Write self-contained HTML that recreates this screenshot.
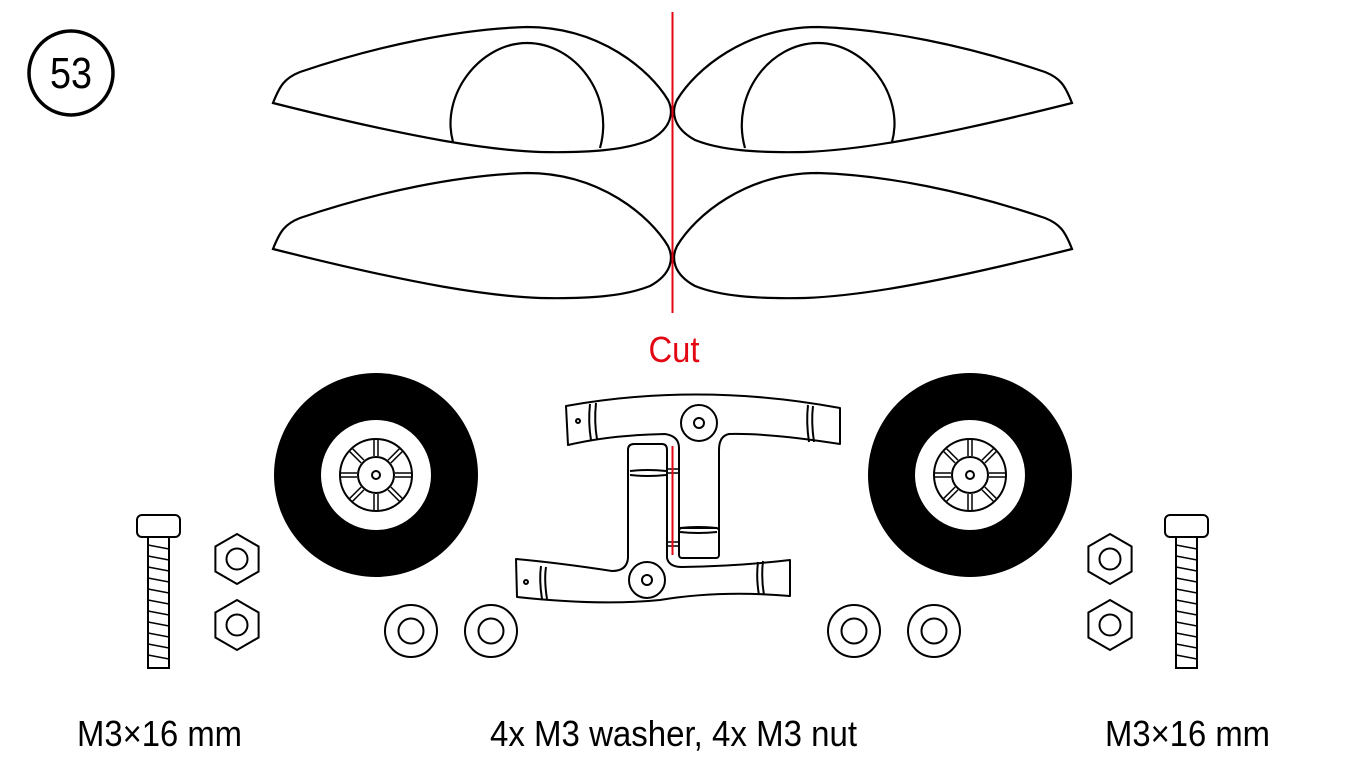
<!DOCTYPE html>
<html><head><meta charset="utf-8"><style>
html,body{margin:0;padding:0;background:#fff;width:1347px;height:780px;overflow:hidden}
svg{display:block}
text{font-family:"Liberation Sans Narrow","Liberation Sans",sans-serif}
</style></head><body>
<svg width="1347" height="780" viewBox="0 0 1347 780" xmlns="http://www.w3.org/2000/svg">
<defs>
<g id="fair">
<path d="M273,103 C280,85 285,78 300,72 C380,45 460,29 527,27 C600,27 650,70 668,100 C674,112 672,128 650,140 C625,150 590,153 540,152 C490,150 420,140 273,103 Z" fill="none" stroke="#000" stroke-width="2.2"/>
</g>
<g id="nut">
<polygon points="0,-25 21.6,-12.5 21.6,12.5 0,25 -21.6,12.5 -21.6,-12.5" fill="#fff" stroke="#000" stroke-width="2"/>
<circle r="10.5" fill="none" stroke="#000" stroke-width="2"/>
</g>
<g id="washer">
<circle r="26" fill="#fff" stroke="#000" stroke-width="2"/>
<circle r="12.5" fill="none" stroke="#000" stroke-width="2"/>
</g>
<g id="bolt" fill="#fff" stroke="#000" stroke-width="2">
<rect x="-22" y="515" width="43" height="22" rx="5"/>
<rect x="-11" y="537" width="21" height="131"/>
<g stroke-width="1.5">
<line x1="-11" y1="545" x2="10" y2="549"/><line x1="-11" y1="556" x2="10" y2="560"/>
<line x1="-11" y1="567" x2="10" y2="571"/><line x1="-11" y1="578" x2="10" y2="582"/>
<line x1="-11" y1="589" x2="10" y2="593"/><line x1="-11" y1="600" x2="10" y2="604"/>
<line x1="-11" y1="611" x2="10" y2="615"/><line x1="-11" y1="622" x2="10" y2="626"/>
<line x1="-11" y1="633" x2="10" y2="637"/><line x1="-11" y1="644" x2="10" y2="648"/>
<line x1="-11" y1="655" x2="10" y2="659"/>
</g>
</g>
<g id="wheel">
<circle r="102" fill="#000"/>
<circle r="55" fill="#fff"/>
<circle r="36" fill="none" stroke="#000" stroke-width="2"/>
<circle r="18" fill="none" stroke="#000" stroke-width="2"/>
<circle r="4" fill="none" stroke="#000" stroke-width="2"/>
<g stroke="#000" stroke-width="1.5">
<g id="sp"><line x1="-2" y1="-19" x2="-2" y2="-35"/><line x1="2" y1="-19" x2="2" y2="-35"/></g>
<use href="#sp" transform="rotate(45)"/><use href="#sp" transform="rotate(90)"/><use href="#sp" transform="rotate(135)"/>
<use href="#sp" transform="rotate(180)"/><use href="#sp" transform="rotate(225)"/><use href="#sp" transform="rotate(270)"/><use href="#sp" transform="rotate(315)"/>
</g>
</g>
</defs>

<circle cx="71" cy="73" r="42" fill="none" stroke="#000" stroke-width="3.5"/>
<text x="71" y="88" font-size="44" text-anchor="middle" textLength="42" lengthAdjust="spacingAndGlyphs">53</text>

<use href="#fair"/>
<path d="M453,142 C440,95 480,43 527,43 C575,43 615,95 600,148" fill="none" stroke="#000" stroke-width="2.2"/>
<use href="#fair" transform="translate(0,146)"/>
<g transform="translate(1345,0) scale(-1,1)">
<use href="#fair"/>
<path d="M453,142 C440,95 480,43 527,43 C575,43 615,95 600,148" fill="none" stroke="#000" stroke-width="2.2"/>
<use href="#fair" transform="translate(0,146)"/>
</g>
<line x1="672.5" y1="12" x2="672.5" y2="313" stroke="#e30613" stroke-width="2"/>
<text x="674" y="362" font-size="36" fill="#e30613" text-anchor="middle" textLength="51" lengthAdjust="spacingAndGlyphs">Cut</text>

<use href="#wheel" transform="translate(376,475)"/>
<use href="#wheel" transform="translate(970,475)"/>

<g fill="#fff" stroke="#000" stroke-width="2" stroke-linejoin="round">
<path d="M566,406 Q700,382 840,408 L840,444 Q770,433 729,434 Q719,436 719,450 L719,553 Q719,558 714,558 L684,558 Q679,558 679,553 L679,448 Q679,436 665,434 Q610,435 568,445 Z"/>
<path d="M516,559 Q560,563 612,571 Q627,571 628,558 L628,450 Q628,444 634,444 L662,444 Q667,444 667,450 L667,558 Q669,567 682,567 Q740,566 790,560 L790,596 Q720,590 660,600 Q600,606 517,597 Z"/>
<rect x="679" y="528" width="40" height="30" rx="3"/>
</g>
<g fill="none" stroke="#000" stroke-width="2">
<circle cx="699" cy="423" r="18"/><circle cx="699" cy="423" r="5"/>
<circle cx="647" cy="580" r="18"/><circle cx="647" cy="580" r="5"/>
<circle cx="578" cy="421" r="2"/><circle cx="526" cy="582" r="2"/>
<path d="M590,404 Q588,422 591,440 M596,403 Q594,422 597,439"/>
<path d="M808,405 Q806,422 809,442 M813,406 Q811,422 814,442"/>
<path d="M541,566 Q539,580 542,599 M546,567 Q544,580 547,599"/>
<path d="M758,562 Q756,578 759,595 M763,561 Q761,578 764,595"/>
<path d="M630,471 Q648,469 666,471 M630,475 Q648,477 666,475"/>
<path d="M680,528 Q698,526 717,528 M680,532 Q698,534 717,532"/>
<path d="M667,469 L679,469 M667,473 L679,473 M667,542 L679,542 M667,546 L679,546" stroke-width="1.5"/>
</g>
<line x1="672.5" y1="446" x2="672.5" y2="555" stroke="#e30613" stroke-width="2"/>

<use href="#bolt" transform="translate(159,0)"/>
<use href="#bolt" transform="translate(1187,0)"/>
<use href="#nut" transform="translate(237,559)"/>
<use href="#nut" transform="translate(237,625)"/>
<use href="#nut" transform="translate(1110,559)"/>
<use href="#nut" transform="translate(1110,625)"/>
<use href="#washer" transform="translate(411,631)"/>
<use href="#washer" transform="translate(491,631)"/>
<use href="#washer" transform="translate(854,631)"/>
<use href="#washer" transform="translate(934,631)"/>

<text x="77" y="746" font-size="36" textLength="165" lengthAdjust="spacingAndGlyphs">M3×16 mm</text>
<text x="490" y="746" font-size="36" textLength="367" lengthAdjust="spacingAndGlyphs">4x M3 washer, 4x M3 nut</text>
<text x="1105" y="746" font-size="36" textLength="165" lengthAdjust="spacingAndGlyphs">M3×16 mm</text>
</svg>
</body></html>
